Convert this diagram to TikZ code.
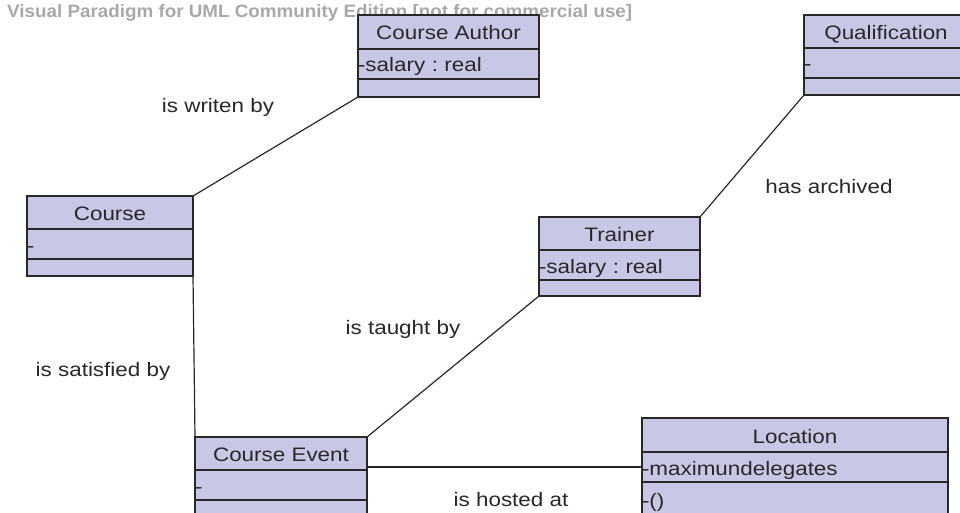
\documentclass[tikz,border=0pt]{standalone}
\usepackage{fontspec}
\usepackage{graphicx}
\setmainfont{Liberation Sans}
\newfontfamily\umlfont[FakeStretch=1.15]{Liberation Sans}
\definecolor{boxfill}{RGB}{200,200,230}
\definecolor{ink}{RGB}{40,40,40}
\definecolor{wmark}{RGB}{168,168,168}
\tikzset{
  umltext/.style={font=\umlfont\fontsize{19.5}{22}\selectfont\frenchspacing, text=ink},
  part/.style={draw=ink, fill=boxfill, line width=1.3pt, inner sep=0pt,
    outer sep=0pt, anchor=north west, umltext, text height=19pt, text depth=3pt},
  head/.style={part, minimum width=#1},
  rowbox/.style={part, text width=#1, align=left},
  emptyrow/.style={part, minimum width=#1, text height=0pt, text depth=0pt},
  assoc/.style={draw=ink, line width=1.2pt},
  lbl/.style={umltext, inner sep=0pt},
  wm/.style={font=\bfseries, text=wmark, inner sep=0pt, anchor=base west},
}
\begin{document}
\begin{tikzpicture}[x=1pt,y=-1pt]
\useasboundingbox (0,0) rectangle (960,513);
\clip (0,0) rectangle (960,513);
\fill[white] (0,0) rectangle (960,513);

% Edition notice, partly covered by the class boxes
\node[wm] (note) at (7,18)
  {\resizebox{625pt}{13pt}{Visual Paradigm for UML Community Edition [not for commercial use]}};

% Course Author
\node[head=181pt, minimum height=34pt] (ca-h) at (358,15) {Course Author};
\node[rowbox=181pt, minimum height=30pt] (ca-a) at (ca-h.south west) {-salary : real};
\node[emptyrow=181pt, minimum height=18pt] (ca-o) at (ca-a.south west) {};

% Qualification
\node[head=164pt, minimum height=33pt] (q-h) at (804,15) {Qualification};
\node[rowbox=164pt, minimum height=30pt] (q-a) at (q-h.south west) {-};
\node[emptyrow=164pt, minimum height=17pt] (q-o) at (q-a.south west) {};

% Course
\node[head=166pt, minimum height=33pt] (c-h) at (27,196) {Course};
\node[rowbox=166pt, minimum height=30pt] (c-a) at (c-h.south west) {-};
\node[emptyrow=166pt, minimum height=17pt] (c-o) at (c-a.south west) {};

% Trainer
\node[head=161pt, minimum height=33pt] (t-h) at (539,217) {Trainer};
\node[rowbox=161pt, minimum height=30pt] (t-a) at (t-h.south west) {-salary : real};
\node[emptyrow=161pt, minimum height=16pt] (t-o) at (t-a.south west) {};

% Course Event
\node[head=172pt, minimum height=33pt] (ce-h) at (195,437) {Course Event};
\node[rowbox=172pt, minimum height=30pt] (ce-a) at (ce-h.south west) {-};
\node[emptyrow=172pt, minimum height=30pt] (ce-o) at (ce-a.south west) {};

% Location
\node[head=306pt, minimum height=34pt] (l-h) at (642,418) {Location};
\node[rowbox=306pt, minimum height=30pt] (l-a) at (l-h.south west) {-maximundelegates};
\node[rowbox=306pt, minimum height=34pt] (l-o) at (l-a.south west) {-()};

% Associations
\draw[assoc] (c-h.north east) -- (ca-o.south west);
\draw[assoc] (t-h.north east) -- (q-o.south west);
\draw[assoc] (c-o.south east) -- (ce-h.north west);
\draw[assoc] (ce-h.north east) -- (t-o.south west);
\draw[assoc] (l-a.west) -- (l-a.west -| ce-h.east);

% Association labels
\node[lbl] (lw) at (218,107) {is writen by};
\node[lbl] (lq) at (829,187) {has archived};
\node[lbl] (ls) at (103,371) {is satisfied by};
\node[lbl] (lt) at (403,329) {is taught by};
\node[lbl] (lh) at (511,500) {is hosted at};
\end{tikzpicture}
\end{document}
